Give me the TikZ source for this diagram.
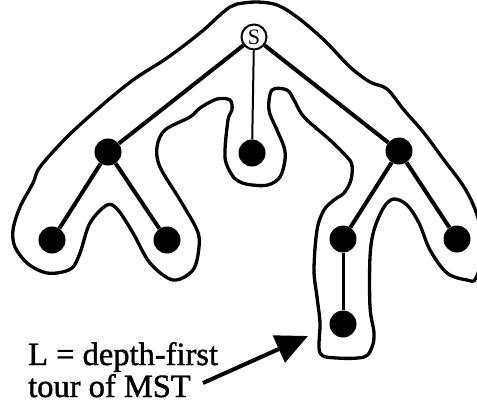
\documentclass[tikz,border=0pt]{standalone}
\usepackage{fontspec}
\setmainfont{Liberation Serif}
\newfontfamily\captionfont[FakeBold=1.3]{Liberation Serif}
\usetikzlibrary{arrows.meta}
\begin{document}
\begin{tikzpicture}[x=1pt,y=-1pt,
  vertex/.style={circle,fill=black,inner sep=0pt,minimum size=27pt},
  source/.style={circle,draw=black,line width=2pt,fill=white,inner sep=0pt,
    minimum size=25pt,font=\fontsize{22}{22}\selectfont},
  thick edge/.style={line width=4pt},
  thin edge/.style={line width=2pt},
  tour/.style={line width=3.3pt,line join=round},
  label text/.style={anchor=base west,inner sep=0pt,font=\captionfont\fontsize{32.5}{33}\selectfont},
  pointer/.style={line width=4pt,-{Triangle[length=32pt,width=29pt]}}]
\useasboundingbox (0,0) rectangle (477,404);
\clip (0,0) rectangle (477,404);

% depth-first tour around the tree
\draw[tour] plot[smooth cycle,tension=0.55] coordinates {
  (237,4) (257,2) (277,5) (297,17) (324,40) (350,67) (370,82) (387,89)
  (404,110) (424,133) (444,160) (464,187) (476,212) (484,245) (476,278)
  (467,280) (447,273) (430,250) (419,223) (407,205) (394,199) (384,207)
  (374,230) (370,257) (370,307) (374,333) (372,347) (364,357) (337,358)
  (320,353) (320,323) (317,297) (314,270) (317,230) (324,210) (334,200)
  (344,193) (351,180) (352,165) (347,157) (330,140) (304,117) (294,100)
  (287,90) (272,90) (269,110) (277,130) (284,147) (285,160) (280,177)
  (268,185) (252,185) (240,182) (232,175) (225,157) (228,120) (232,110)
  (230,100) (217,99) (200,108) (190,117) (165,130) (157,147) (160,167)
  (180,200) (197,230) (199,247) (193,270) (173,280) (150,263) (133,233)
  (118,210) (107,205) (90,223) (80,253) (72,268) (57,273) (43,272)
  (27,263) (15,247) (13,230) (20,207) (33,183) (40,167) (67,137)
  (100,107) (133,80) (167,58) (200,33) (220,15) (230,7)};

% minimum spanning tree
\node[source] (s) at (254,37) {S};
\node[vertex] (a) at (108,152) {};
\node[vertex] (c) at (252,153) {};
\node[vertex] (b) at (399,151) {};
\node[vertex] (ll) at (52,240) {};
\node[vertex] (lr) at (167,240) {};
\node[vertex] (rl) at (343,239) {};
\node[vertex] (rr) at (457,239) {};
\node[vertex] (rd) at (343,324) {};

\draw[thick edge] (s) -- (a);
\draw[thick edge] (s) -- (b);
\draw[thin edge] (s) -- (c);
\draw[thick edge] (a) -- (ll);
\draw[thick edge] (a) -- (lr);
\draw[thick edge] (b) -- (rl);
\draw[thick edge] (b) -- (rr);
\draw[line width=3pt] (rl) -- (rd);

% caption with pointer
\node[label text] (lbl1) at (28,365) {L = depth-first};
\node[label text] (lbl2) at (28,397) {tour of MST};
\coordinate (ptrtail) at (203,383);
\coordinate (ptrtip) at (308,336);
\draw[pointer] (ptrtail) -- (ptrtip);
\end{tikzpicture}
\end{document}
